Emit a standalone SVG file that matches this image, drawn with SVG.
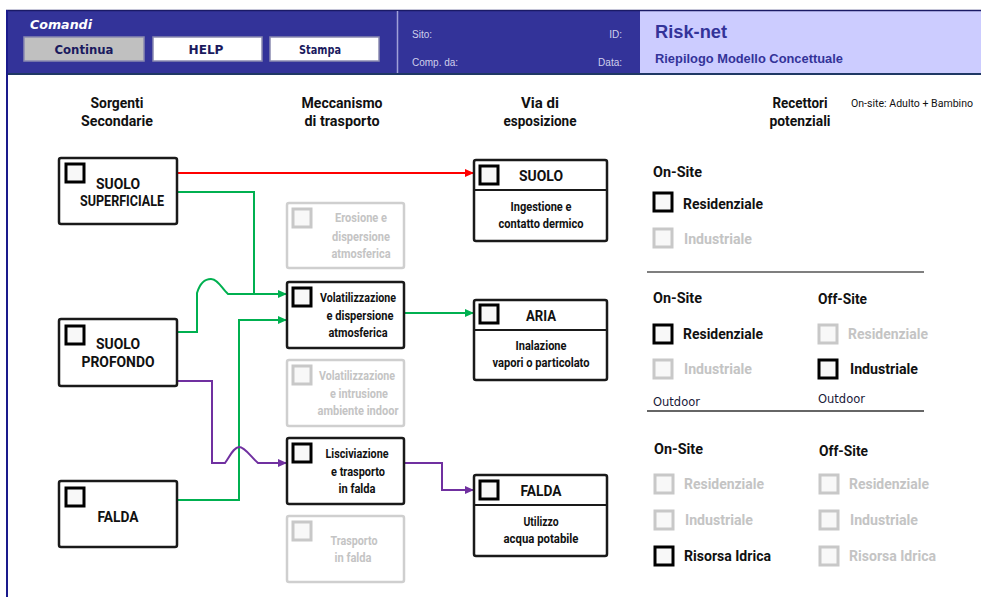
<svg xmlns="http://www.w3.org/2000/svg" width="981" height="597" viewBox="0 0 981 597">
<style>
.t{font-family:Roboto,"Liberation Sans",sans-serif;font-weight:bold;fill:#111}
.g{fill:#c4c4c4}
.c{text-anchor:middle}
.s15{font-size:15px}
.s14{font-size:14px}
.s12{font-size:12px}
.node{fill:#fff;stroke:#1a1a1a;stroke-width:2.5}
.gnode{fill:#fff;stroke:#cfcfcf;stroke-width:2.5}
.cb{fill:#f8f8f8;stroke:#000;stroke-width:3}
.gcb{fill:#f8f8f8;stroke:#c8c8c8;stroke-width:3}
.hd{font-family:"DejaVu Sans",Verdana,sans-serif;font-weight:bold;font-size:12px;fill:#1a1a5e;text-anchor:middle}
.hs{font-family:"Liberation Sans",Arial,sans-serif;font-size:10px;fill:#d0d0ec}
.out{font-family:"DejaVu Sans",Verdana,sans-serif;font-size:12px;fill:#1a1a3a}
.con{fill:none;stroke-width:2}
</style>
<defs>
<marker id="aR" markerWidth="9" markerHeight="8" refX="9" refY="4" orient="auto" markerUnits="userSpaceOnUse"><path d="M0,0 L9,4 L0,8 z" fill="#ff0000"/></marker>
<marker id="aG" markerWidth="9" markerHeight="8" refX="9" refY="4" orient="auto" markerUnits="userSpaceOnUse"><path d="M0,0 L9,4 L0,8 z" fill="#00b050"/></marker>
<marker id="aP" markerWidth="9" markerHeight="8" refX="9" refY="4" orient="auto" markerUnits="userSpaceOnUse"><path d="M0,0 L9,4 L0,8 z" fill="#7030a0"/></marker>
</defs>
<rect x="0" y="0" width="981" height="597" fill="#fff"/>
<!-- header -->
<g id="header">
<rect x="6" y="10" width="975" height="65" fill="#333399"/>
<rect x="640" y="10" width="341" height="65" fill="#ccccff"/>
<line x1="6" y1="10.5" x2="981" y2="10.5" stroke="#1a1a66" stroke-width="1.5"/>
<line x1="6" y1="74" x2="981" y2="74" stroke="#1f3864" stroke-width="2"/>
<line x1="397.5" y1="11" x2="397.5" y2="73" stroke="#a0a0d8" stroke-width="1.5"/>
<line x1="7" y1="10" x2="7" y2="597" stroke="#1a1a8c" stroke-width="2"/>
<text x="30" y="29" font-family="'DejaVu Sans',Verdana,sans-serif" font-weight="bold" font-style="italic" font-size="12.5" fill="#fff" textLength="62" lengthAdjust="spacingAndGlyphs">Comandi</text>
<rect x="24" y="37" width="120" height="24" fill="#c0c0c0" stroke="#8a8ab0" stroke-width="1.5"/>
<rect x="153" y="37" width="109" height="24" fill="#fff" stroke="#8a8ab0" stroke-width="1.5"/>
<rect x="270" y="37" width="109" height="24" fill="#fff" stroke="#8a8ab0" stroke-width="1.5"/>
<text class="hd" x="84" y="54" textLength="59" lengthAdjust="spacingAndGlyphs">Continua</text>
<text class="hd" x="206" y="54" textLength="35" lengthAdjust="spacingAndGlyphs">HELP</text>
<text class="hd" x="320" y="54" textLength="42" lengthAdjust="spacingAndGlyphs">Stampa</text>
<text class="hs" x="412" y="38">Sito:</text>
<text class="hs" x="622" y="38" text-anchor="end">ID:</text>
<text class="hs" x="412" y="66">Comp. da:</text>
<text class="hs" x="622" y="66" text-anchor="end">Data:</text>
<text x="655" y="38" font-family="'Liberation Sans',Arial,sans-serif" font-weight="bold" font-size="18" fill="#333399" textLength="72" lengthAdjust="spacingAndGlyphs">Risk-net</text>
<text x="655" y="63" font-family="'Liberation Sans',Arial,sans-serif" font-weight="bold" font-size="13" fill="#333399" textLength="188" lengthAdjust="spacingAndGlyphs">Riepilogo Modello Concettuale</text>
</g>
<!-- column headings -->
<g id="headings">
<text class="t s14 c" x="117" y="108" textLength="53" lengthAdjust="spacingAndGlyphs">Sorgenti</text>
<text class="t s14 c" x="117" y="126" textLength="72" lengthAdjust="spacingAndGlyphs">Secondarie</text>
<text class="t s14 c" x="342" y="108" textLength="81" lengthAdjust="spacingAndGlyphs">Meccanismo</text>
<text class="t s14 c" x="342" y="126" textLength="75" lengthAdjust="spacingAndGlyphs">di trasporto</text>
<text class="t s14 c" x="540" y="108" textLength="38" lengthAdjust="spacingAndGlyphs">Via di</text>
<text class="t s14 c" x="540" y="126" textLength="73" lengthAdjust="spacingAndGlyphs">esposizione</text>
<text class="t s14 c" x="800" y="108" textLength="55" lengthAdjust="spacingAndGlyphs">Recettori</text>
<text class="t s14 c" x="800" y="126" textLength="61" lengthAdjust="spacingAndGlyphs">potenziali</text>
<text x="851" y="107" font-family="Roboto,'Liberation Sans',sans-serif" font-size="10" fill="#111" textLength="122" lengthAdjust="spacingAndGlyphs">On-site: Adulto + Bambino</text>
</g>
<!-- connectors -->
<g id="connectors">
<path class="con" stroke="#ff0000" d="M177,173 H474" marker-end="url(#aR)"/>
<path class="con" stroke="#00b050" d="M177,192 H254 V294"/>
<path class="con" stroke="#00b050" d="M177,332 H197 V293 C200,283 205,279 211,279 C218,279 222,289 228,294 H287" marker-end="url(#aG)"/>
<path class="con" stroke="#00b050" d="M177,500 H239 V320 H287" marker-end="url(#aG)"/>
<path class="con" stroke="#00b050" d="M404,313 H474" marker-end="url(#aG)"/>
<path class="con" stroke="#7030a0" d="M177,381 H212 V463 H225 C230,456 234,447 239,447 C245,447 251,457 258,463 H287" marker-end="url(#aP)"/>
<path class="con" stroke="#7030a0" d="M404,463 H442 V490 H474" marker-end="url(#aP)"/>
</g>
<!-- source nodes -->
<g id="suolo-superficiale">
<rect class="node" x="59" y="158" width="118" height="66" rx="2"/>
<rect class="cb" x="66" y="164" width="18" height="18"/>
<text class="t s15 c" x="118" y="189" textLength="44" lengthAdjust="spacingAndGlyphs">SUOLO</text>
<text class="t s15 c" x="122" y="206" textLength="84" lengthAdjust="spacingAndGlyphs">SUPERFICIALE</text>
</g>
<g id="suolo-profondo">
<rect class="node" x="59" y="319" width="118" height="67" rx="2"/>
<rect class="cb" x="66" y="326" width="18" height="18"/>
<text class="t s15 c" x="118" y="349" textLength="44" lengthAdjust="spacingAndGlyphs">SUOLO</text>
<text class="t s15 c" x="118" y="367" textLength="73" lengthAdjust="spacingAndGlyphs">PROFONDO</text>
</g>
<g id="falda-src">
<rect class="node" x="59" y="481" width="118" height="66" rx="2"/>
<rect class="cb" x="66" y="488" width="18" height="18"/>
<text class="t s15 c" x="118" y="522" textLength="41" lengthAdjust="spacingAndGlyphs">FALDA</text>
</g>
<!-- transport nodes -->
<g id="erosione">
<rect class="gnode" x="287" y="203" width="117" height="65" rx="2"/>
<rect class="gcb" x="293" y="209" width="18" height="18"/>
<text class="t s12 c g" x="361" y="222" textLength="52" lengthAdjust="spacingAndGlyphs">Erosione e</text>
<text class="t s12 c g" x="361" y="241" textLength="58" lengthAdjust="spacingAndGlyphs">dispersione</text>
<text class="t s12 c g" x="361" y="258" textLength="59" lengthAdjust="spacingAndGlyphs">atmosferica</text>
</g>
<g id="volat-dispersione">
<rect class="node" x="287" y="282" width="117" height="66" rx="2"/>
<rect class="cb" x="293" y="288" width="18" height="18"/>
<text class="t s12 c" x="358" y="302" textLength="76" lengthAdjust="spacingAndGlyphs">Volatilizzazione</text>
<text class="t s12 c" x="360" y="320" textLength="67" lengthAdjust="spacingAndGlyphs">e dispersione</text>
<text class="t s12 c" x="358" y="337" textLength="59" lengthAdjust="spacingAndGlyphs">atmosferica</text>
</g>
<g id="volat-intrusione">
<rect class="gnode" x="287" y="360" width="117" height="66" rx="2"/>
<rect class="gcb" x="293" y="366" width="18" height="18"/>
<text class="t s12 c g" x="357" y="380" textLength="76" lengthAdjust="spacingAndGlyphs">Volatilizzazione</text>
<text class="t s12 c g" x="359" y="398" textLength="58" lengthAdjust="spacingAndGlyphs">e intrusione</text>
<text class="t s12 c g" x="358" y="415" textLength="81" lengthAdjust="spacingAndGlyphs">ambiente indoor</text>
</g>
<g id="lisciviazione">
<rect class="node" x="287" y="438" width="117" height="66" rx="2"/>
<rect class="cb" x="293" y="444" width="18" height="18"/>
<text class="t s12 c" x="357" y="458" textLength="63" lengthAdjust="spacingAndGlyphs">Lisciviazione</text>
<text class="t s12 c" x="358" y="476" textLength="54" lengthAdjust="spacingAndGlyphs">e trasporto</text>
<text class="t s12 c" x="357" y="493" textLength="37" lengthAdjust="spacingAndGlyphs">in falda</text>
</g>
<g id="trasporto-falda">
<rect class="gnode" x="287" y="516" width="117" height="66" rx="2"/>
<rect class="gcb" x="293" y="522" width="18" height="18"/>
<text class="t s12 c g" x="354" y="545" textLength="47" lengthAdjust="spacingAndGlyphs">Trasporto</text>
<text class="t s12 c g" x="353" y="562" textLength="37" lengthAdjust="spacingAndGlyphs">in falda</text>
</g>
<!-- exposure nodes -->
<g id="via-suolo">
<rect class="node" x="474" y="160" width="133" height="81" rx="2"/>
<line x1="474" y1="190" x2="607" y2="190" stroke="#1a1a1a" stroke-width="2"/>
<rect class="cb" x="480" y="166" width="18" height="18"/>
<text class="t s15 c" x="541" y="181" textLength="44" lengthAdjust="spacingAndGlyphs">SUOLO</text>
<text class="t s12 c" x="541" y="211" textLength="61" lengthAdjust="spacingAndGlyphs">Ingestione e</text>
<text class="t s12 c" x="541" y="228" textLength="85" lengthAdjust="spacingAndGlyphs">contatto dermico</text>
</g>
<g id="via-aria">
<rect class="node" x="474" y="300" width="133" height="80" rx="2"/>
<line x1="474" y1="330" x2="607" y2="330" stroke="#1a1a1a" stroke-width="2"/>
<rect class="cb" x="480" y="305" width="18" height="18"/>
<text class="t s15 c" x="541" y="321" textLength="30" lengthAdjust="spacingAndGlyphs">ARIA</text>
<text class="t s12 c" x="541" y="350" textLength="51" lengthAdjust="spacingAndGlyphs">Inalazione</text>
<text class="t s12 c" x="541" y="367" textLength="97" lengthAdjust="spacingAndGlyphs">vapori o particolato</text>
</g>
<g id="via-falda">
<rect class="node" x="474" y="475" width="133" height="81" rx="2"/>
<line x1="474" y1="505" x2="607" y2="505" stroke="#1a1a1a" stroke-width="2"/>
<rect class="cb" x="480" y="481" width="18" height="18"/>
<text class="t s15 c" x="541" y="496" textLength="41" lengthAdjust="spacingAndGlyphs">FALDA</text>
<text class="t s12 c" x="541" y="526" textLength="35" lengthAdjust="spacingAndGlyphs">Utilizzo</text>
<text class="t s12 c" x="541" y="543" textLength="75" lengthAdjust="spacingAndGlyphs">acqua potabile</text>
</g>
<!-- receptors -->
<g id="recettori-suolo">
<text class="t s15" x="653" y="177" textLength="49" lengthAdjust="spacingAndGlyphs">On-Site</text>
<rect class="cb" x="654" y="193" width="18" height="18"/>
<text class="t s15" x="683" y="209" textLength="80" lengthAdjust="spacingAndGlyphs">Residenziale</text>
<rect class="gcb" x="654" y="229" width="18" height="18"/>
<text class="t s15 g" x="684" y="244" textLength="68" lengthAdjust="spacingAndGlyphs">Industriale</text>
<line x1="647" y1="272" x2="924" y2="272" stroke="#555" stroke-width="1.5"/>
</g>
<g id="recettori-aria">
<text class="t s15" x="653" y="303" textLength="49" lengthAdjust="spacingAndGlyphs">On-Site</text>
<text class="t s15" x="818" y="304" textLength="49" lengthAdjust="spacingAndGlyphs">Off-Site</text>
<rect class="cb" x="654" y="325" width="18" height="18"/>
<text class="t s15" x="683" y="339" textLength="80" lengthAdjust="spacingAndGlyphs">Residenziale</text>
<rect class="gcb" x="819" y="325" width="18" height="18"/>
<text class="t s15 g" x="848" y="339" textLength="80" lengthAdjust="spacingAndGlyphs">Residenziale</text>
<rect class="gcb" x="654" y="360" width="18" height="18"/>
<text class="t s15 g" x="684" y="374" textLength="68" lengthAdjust="spacingAndGlyphs">Industriale</text>
<rect class="cb" x="819" y="360" width="18" height="18"/>
<text class="t s15" x="850" y="374" textLength="68" lengthAdjust="spacingAndGlyphs">Industriale</text>
<text class="out" x="653" y="406" textLength="47" lengthAdjust="spacingAndGlyphs">Outdoor</text>
<text class="out" x="818" y="403" textLength="47" lengthAdjust="spacingAndGlyphs">Outdoor</text>
<line x1="647" y1="411" x2="924" y2="411" stroke="#333" stroke-width="1.5"/>
</g>
<g id="recettori-falda">
<text class="t s15" x="654" y="454" textLength="49" lengthAdjust="spacingAndGlyphs">On-Site</text>
<text class="t s15" x="819" y="456" textLength="49" lengthAdjust="spacingAndGlyphs">Off-Site</text>
<rect class="gcb" x="655" y="475" width="18" height="18"/>
<text class="t s15 g" x="684" y="489" textLength="80" lengthAdjust="spacingAndGlyphs">Residenziale</text>
<rect class="gcb" x="820" y="475" width="18" height="18"/>
<text class="t s15 g" x="849" y="489" textLength="80" lengthAdjust="spacingAndGlyphs">Residenziale</text>
<rect class="gcb" x="655" y="511" width="18" height="18"/>
<text class="t s15 g" x="685" y="525" textLength="68" lengthAdjust="spacingAndGlyphs">Industriale</text>
<rect class="gcb" x="820" y="511" width="18" height="18"/>
<text class="t s15 g" x="850" y="525" textLength="68" lengthAdjust="spacingAndGlyphs">Industriale</text>
<rect class="cb" x="655" y="547" width="18" height="18"/>
<text class="t s15" x="684" y="561" textLength="87" lengthAdjust="spacingAndGlyphs">Risorsa Idrica</text>
<rect class="gcb" x="820" y="547" width="18" height="18"/>
<text class="t s15 g" x="849" y="561" textLength="87" lengthAdjust="spacingAndGlyphs">Risorsa Idrica</text>
</g>
</svg>
